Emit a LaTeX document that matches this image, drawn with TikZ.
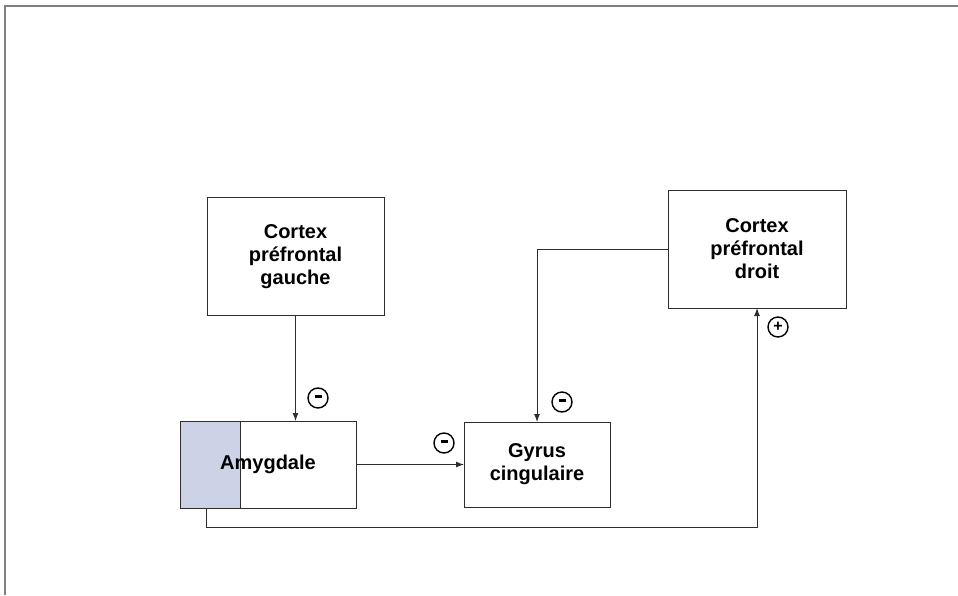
\documentclass[tikz,border=0pt]{standalone}
\usepackage{fontspec}
\setmainfont{Liberation Sans}
\usetikzlibrary{arrows.meta,calc}
\definecolor{amygfill}{RGB}{205,211,230}
\definecolor{lin}{RGB}{45,45,45}
\begin{document}
\begin{tikzpicture}[x=1pt,y=-1pt,
  box/.style={draw=lin,line width=1pt,fill=white,inner sep=0pt,outer sep=0pt,
    align=center,font=\fontsize{20}{23}\selectfont\bfseries},
  conn/.style={draw=lin,line width=1pt},
  arr/.style={conn,-{Latex[length=8pt,width=6pt]}},
  sign/.style={circle,draw=black,line width=1.4pt,minimum size=20pt,inner sep=0pt,
    font=\fontsize{16}{16}\selectfont\bfseries}]
\useasboundingbox (0,0) rectangle (958,595);
\fill[white] (0,0) rectangle (958,595);
% frame
\draw[gray,line width=1.6pt] (5,595) -- (5,6) -- (958,6);
% boxes
\node[box,minimum width=177pt,minimum height=118pt] (gauche) at (295.5,256.5) {Cortex\\préfrontal\\gauche};
\node[box,minimum width=178pt,minimum height=118pt] (droit) at (757,249) {Cortex\\préfrontal\\droit};
\node[box,minimum width=176pt,minimum height=87pt] (amyg) at (268,464.5) {};
\fill[amygfill] (amyg.north west) rectangle (240,508);
\draw[lin,line width=1pt] (240,421) -- (240,508);
\draw[lin,line width=1pt] (amyg.north west) rectangle (amyg.south east);
\node[font=\fontsize{20}{23}\selectfont\bfseries,inner sep=0pt] (amygtxt) at (amyg.center) {Amygdale};
\node[box,minimum width=146pt,minimum height=85pt] (gyrus) at (537,464.5) {Gyrus\\cingulaire};
% connectors
\coordinate (xb) at (206,0);
\coordinate (yb) at (0,527);
\draw[arr] (gauche.south) -- (amyg.north -| gauche.south);
\draw[arr] (amyg.east) -- (amyg.east -| gyrus.west);
\draw[arr] (droit.west) -| (gyrus.north);
\draw[arr] (amyg.south -| xb) -- (xb |- yb) -| (droit.south);
% signs
\node[sign] (s1) at (318,398) {\rule[0.3ex]{7pt}{2.8pt}};
\node[sign] (s2) at (444,443) {\rule[0.3ex]{7pt}{2.8pt}};
\node[sign] (s3) at (562,402) {\rule[0.3ex]{7pt}{2.8pt}};
\node[sign] (s4) at (778,327) {+};
\end{tikzpicture}
\end{document}
